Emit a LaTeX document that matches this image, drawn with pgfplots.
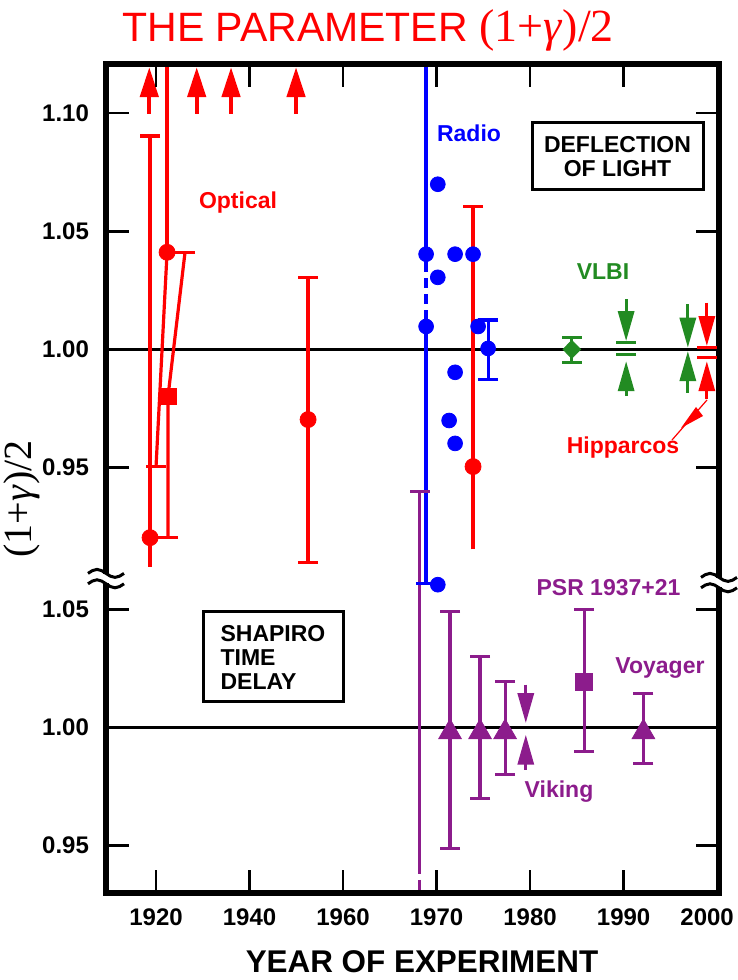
\documentclass[border=0pt]{standalone}
\usepackage{fontspec}
\setmainfont{Liberation Sans}
\newfontfamily\seriffont{Liberation Serif}
\usepackage{pgfplots}
\pgfplotsset{compat=1.18}
\usetikzlibrary{arrows.meta}
\definecolor{cRed}{RGB}{255,0,0}
\definecolor{cBlue}{RGB}{0,0,255}
\definecolor{cGreen}{RGB}{34,139,34}
\definecolor{cPurple}{RGB}{140,28,140}
\pgfplotsset{
  ebar/.style={line width=1.6pt, mark=-, mark size=5pt, mark options={solid, line width=1.6pt}},
  dnarr/.style={line width=1.6pt, -{Triangle[length=15pt,width=8pt]}},
  toparr/.style={cRed, line width=2.2pt, -{Triangle[length=15pt,width=9pt]}},
}
\newcommand\lab{\bfseries\fontsize{11.5}{12}\selectfont}
\begin{document}
\begin{tikzpicture}
\path[use as bounding box] (-53pt,-43.5pt) rectangle (316pt,446.5pt);
\begin{axis}[
  scale only axis, width=306.5pt, height=414.5pt,
  xmin=-0.535, xmax=6.02, ymin=0.7699, ymax=1.1208,
  axis on top,
  axis line style={line width=3.2pt},
  tick align=inside, xtick pos=both, ytick pos=both,
  major tick length=11.5pt,
  every tick/.style={black, line width=1.3pt},
  xtick={0,1,2,3,4,5,6},
  xticklabels={1920,1940,1960,1970,1980,1990,{2000\hspace*{10pt}}},
  ytick={0.79,0.84,0.89,0.95,1.00,1.05,1.10},
  yticklabels={0.95,1.00,1.05,0.95,1.00,1.05,1.10},
  ticklabel style={font=\bfseries\fontsize{12}{12}\selectfont},
  xticklabel style={yshift=-4.5pt},
  yticklabel style={xshift=-5pt},
]
% reference lines at (1+gamma)/2 = 1 (upper: deflection, lower: time delay, offset 0.16)
\addplot[black, line width=1.5pt] coordinates {(-0.535,1.00) (6.02,1.00)};
\addplot[black, line width=1.5pt] coordinates {(-0.535,0.84) (6.02,0.84)};

% ---------------- Optical (red) ----------------
\addplot[toparr] coordinates {(-0.072,1.0997) (-0.072,1.1195)};
\addplot[toparr] coordinates {(0.435,1.0997) (0.435,1.1195)};
\addplot[toparr] coordinates {(0.802,1.0997) (0.802,1.1195)};
\addplot[toparr] coordinates {(1.497,1.0997) (1.497,1.1195)};
% 1919
\addplot[cRed, ebar, mark indices={2}] coordinates {(-0.064,0.9081) (-0.064,1.0903)};
\addplot[cRed, only marks, mark=*, mark size=4pt] coordinates {(-0.064,0.9203)};
% 1922
\addplot[cRed, line width=1.6pt] coordinates {(0.118,1.0411) (0.118,1.1208)};
\addplot[cRed, ebar, mark indices={2}] coordinates {(0.118,1.0411) (0.000,0.9504)};
\addplot[cRed, ebar, mark indices={1,3}] coordinates {(0.310,1.0411) (0.128,0.9801) (0.128,0.9203)};
\addplot[cRed, only marks, mark=*, mark size=4pt] coordinates {(0.118,1.0411)};
\addplot[cRed, only marks, mark=square*, mark size=4pt] coordinates {(0.128,0.9801)};
% 1952
\addplot[cRed, ebar] coordinates {(1.626,0.9097) (1.626,1.0305)};
\addplot[cRed, only marks, mark=*, mark size=4pt] coordinates {(1.626,0.9703)};
% 1973
\addplot[cRed, ebar, mark indices={2}] coordinates {(3.390,0.9153) (3.390,1.0606)};
\addplot[cRed, only marks, mark=*, mark size=4pt] coordinates {(3.390,0.9504)};

% ---------------- Radio (blue) ----------------
\addplot[cBlue, line width=1.7pt] coordinates {(2.888,1.1208) (2.888,1.0369)};
\addplot[cBlue, line width=1.7pt, dash pattern=on 5pt off 3pt] coordinates {(2.888,1.0369) (2.888,1.0140)};
\addplot[cBlue, ebar, line width=1.7pt, mark indices={2}] coordinates {(2.888,1.0140) (2.888,0.9010)};
\addplot[cBlue, only marks, mark=*, mark size=3.7pt] coordinates {
  (3.013,1.0699) (2.888,1.0403) (3.198,1.0403) (3.390,1.0403) (3.013,1.0305)
  (2.888,1.0097) (3.444,1.0097) (3.198,0.9903) (3.134,0.9699) (3.198,0.9602)
  (3.013,0.9004)};
\addplot[cBlue, ebar] coordinates {(3.551,0.9873) (3.551,1.0124)};
\addplot[cBlue, only marks, mark=*, mark size=3.7pt] coordinates {(3.551,1.0004)};

% ---------------- VLBI (green) ----------------
\addplot[cGreen, ebar] coordinates {(4.446,0.9945) (4.446,1.0051)};
\addplot[cGreen, only marks, mark=diamond*, mark size=4.5pt, mark options={xscale=1.3}] coordinates {(4.446,1.0000)};
\addplot[cGreen, dnarr] coordinates {(5.027,1.0212) (5.027,1.0035)};
\addplot[cGreen, dnarr] coordinates {(5.027,0.9802) (5.027,0.9950)};
\addplot[cGreen, only marks, mark=-, mark size=5pt, mark options={line width=1.6pt}] coordinates {(5.027,1.0028) (5.027,0.9979)};
\addplot[cGreen, dnarr] coordinates {(5.687,1.0191) (5.687,1.0007)};
\addplot[cGreen, dnarr] coordinates {(5.687,0.9817) (5.687,0.9993)};

% ---------------- Hipparcos (red) ----------------
\addplot[cRed, dnarr] coordinates {(5.890,1.0198) (5.890,1.0014)};
\addplot[cRed, dnarr] coordinates {(5.890,0.9788) (5.890,0.9950)};
\addplot[cRed, only marks, mark=-, mark size=5pt, mark options={line width=1.6pt}] coordinates {(5.890,1.0007) (5.890,0.9965)};

% ---------------- Time delay (purple), lower panel: value - 0.16 ----------------
\addplot[cPurple, ebar, mark indices={1}] coordinates {(2.818,0.9398) (2.818,0.7831)};
\addplot[cPurple, line width=1.6pt, dash pattern=on 6pt off 3pt] coordinates {(2.818,0.7831) (2.818,0.7699)};
\addplot[cPurple, ebar] coordinates {(3.144,0.7889) (3.144,0.8891)};
\addplot[cPurple, ebar] coordinates {(3.465,0.8100) (3.465,0.8700)};
\addplot[cPurple, ebar] coordinates {(3.733,0.8199) (3.733,0.8594)};
\addplot[cPurple, ebar] coordinates {(4.578,0.8298) (4.578,0.8898)};
\addplot[cPurple, ebar] coordinates {(5.212,0.8246) (5.212,0.8545)};
\addplot[cPurple, only marks, mark=triangle*, mark size=6.5pt] coordinates {(3.144,0.838) (3.465,0.838) (3.733,0.838) (5.212,0.838)};
\addplot[cPurple, only marks, mark=square*, mark size=4.2pt] coordinates {(4.578,0.8594)};
\addplot[cPurple, dnarr] coordinates {(3.954,0.8581) (3.954,0.8418)};
\addplot[cPurple, dnarr] coordinates {(3.954,0.8220) (3.954,0.8369)};
\end{axis}

% axis breaks
\foreach \bx/\by in {0/157, 306.5/155}{
  \fill[white] ({\bx pt-9pt},{\by pt-2.2pt}) rectangle ({\bx pt+9pt},{\by pt+2.6pt});
  \draw[line width=1.5pt] ({\bx pt-9pt},{\by pt+2.8pt}) sin ({\bx pt-4.5pt},{\by pt+4.8pt}) cos ({\bx pt},{\by pt+2.8pt}) sin ({\bx pt+4.5pt},{\by pt+0.8pt}) cos ({\bx pt+9pt},{\by pt+2.8pt});
  \draw[line width=1.5pt] ({\bx pt-9pt},{\by pt-2.4pt}) sin ({\bx pt-4.5pt},{\by pt-0.4pt}) cos ({\bx pt},{\by pt-2.4pt}) sin ({\bx pt+4.5pt},{\by pt-4.4pt}) cos ({\bx pt+9pt},{\by pt-2.4pt});
}

% titles
\node[anchor=base west, inner sep=0pt, text=cRed, font=\fontsize{20.5}{20.5}\selectfont] at (8pt,425.5pt)
  {THE PARAMETER {\seriffont\fontsize{23}{23}\selectfont (1+\textit{γ})/2}};
\node[rotate=90, inner sep=0pt, font=\seriffont\fontsize{20}{20}\selectfont] at (-42pt,197pt) {(1+\textit{γ})/2};
\node[font=\bfseries\fontsize{15.7}{15.7}\selectfont] at (158pt,-34.5pt) {YEAR OF EXPERIMENT};

% annotations
\node[text=cBlue, font=\lab] at (181.5pt,380pt) {Radio};
\node[text=cRed, font=\lab] at (66pt,345pt) {Optical};
\node[text=cGreen, font=\lab] at (248.5pt,310.5pt) {VLBI};
\node[text=cRed, font=\lab] at (258.5pt,222.5pt) {Hipparcos};
\draw[cRed, line width=0.6pt] (283pt,226.5pt) -- (300.5pt,246.5pt);
\fill[cRed] (287.5pt,232.5pt) -- (295pt,243pt) -- (298.5pt,238.5pt) -- cycle;
\node[draw, line width=1.5pt, minimum width=85.5pt, minimum height=33.5pt, align=center, font=\lab, inner sep=2pt] at (255.75pt,368.25pt) {DEFLECTION\\OF LIGHT};
\node[draw, line width=1.5pt, minimum width=70pt, minimum height=45pt, align=left, font=\lab, inner sep=2pt] at (83.5pt,118pt) {SHAPIRO\\TIME\\DELAY};
\node[text=cPurple, font=\lab] at (251.25pt,152.5pt) {PSR 1937+21};
\node[text=cPurple, font=\lab] at (277pt,112.5pt) {Voyager};
\node[text=cPurple, font=\lab] at (226.5pt,50.5pt) {Viking};
\end{tikzpicture}
\end{document}
